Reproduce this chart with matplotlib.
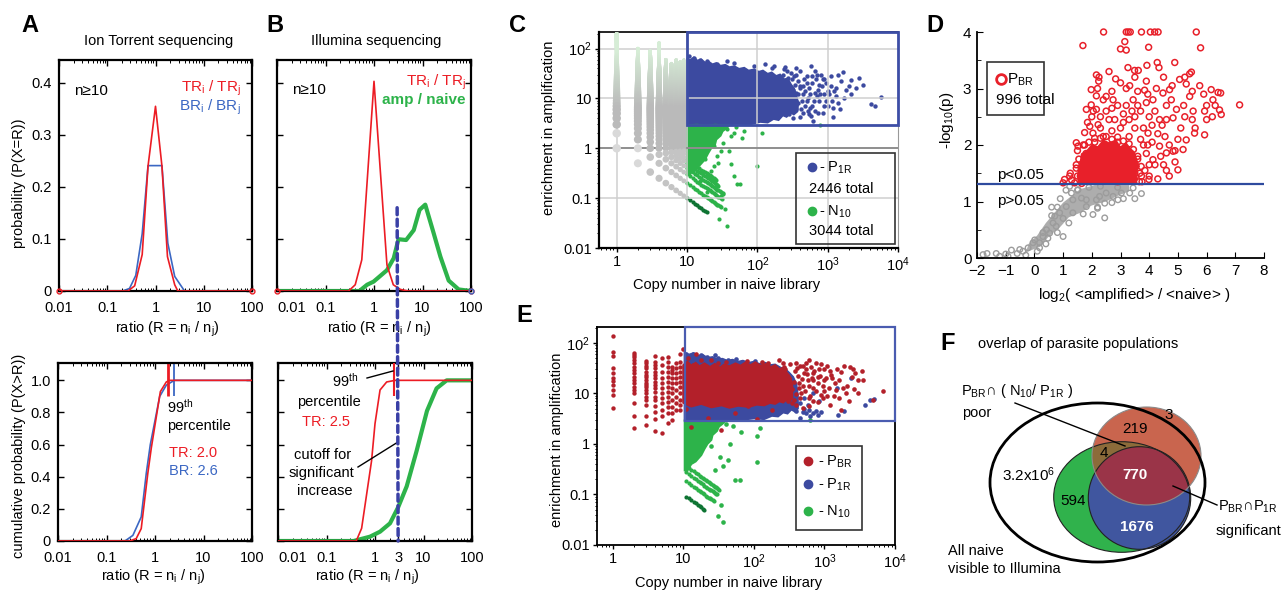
import numpy as np
import matplotlib
matplotlib.use("Agg")
import matplotlib.pyplot as plt
from matplotlib.patches import Ellipse, Rectangle, ConnectionPatch
from matplotlib.lines import Line2D
from matplotlib.ticker import FixedLocator, FixedFormatter, NullFormatter, LogLocator, MultipleLocator

plt.rcParams['font.family'] = ['Liberation Sans', 'DejaVu Sans']
plt.rcParams['mathtext.default'] = 'regular'
plt.rcParams['axes.unicode_minus'] = True

# ---------------------------------------------------------------- data
# Panel A (Ion Torrent) probability of ratio
a_pdf_tr_x = [0.01, 0.27, 0.37, 0.53, 0.70, 1.0, 1.36, 1.77, 2.5, 2.9, 100]
a_pdf_tr_y = [0, 0, 0.01, 0.07, 0.24, 0.355, 0.24, 0.066, 0.012, 0, 0]
a_pdf_br_x = [0.01, 0.21, 0.29, 0.39, 0.53, 0.70, 1.0, 1.36, 1.8, 2.5, 4.0, 100]
a_pdf_br_y = [0, 0, 0.005, 0.03, 0.11, 0.241, 0.241, 0.241, 0.092, 0.028, 0, 0]
# Panel B (Illumina) probability of ratio
b_pdf_tr_x = [0.01, 0.3, 0.41, 0.56, 1.0, 1.85, 2.5, 3.5, 5.0, 100]
b_pdf_tr_y = [0, 0, 0.012, 0.06, 0.403, 0.05, 0.012, 0.003, 0, 0]
b_pdf_amp_x = [0.01, 0.5, 0.72, 0.98, 1.85, 2.55, 3.2, 4.6, 6.6, 8.7, 11.4, 17, 23.4, 34.7, 55.6, 100]
b_pdf_amp_y = [0, 0, 0.012, 0.018, 0.04, 0.063, 0.0995, 0.098, 0.117, 0.156, 0.166, 0.111, 0.066, 0.02, 0.003, 0]
# Panel A cumulative
a_cdf_tr_x = [0.01, 0.3, 0.41, 0.52, 0.71, 0.84, 1.29, 1.71, 2.0, 100]
a_cdf_tr_y = [0, 0, 0.015, 0.077, 0.42, 0.58, 0.93, 0.99, 1.0, 1.0]
a_cdf_br_x = [0.01, 0.24, 0.35, 0.52, 0.66, 0.8, 1.25, 1.71, 2.5, 100]
a_cdf_br_y = [0, 0, 0.035, 0.15, 0.42, 0.6, 0.9, 0.97, 1.0, 1.0]
# Panel B cumulative
b_cdf_tr_x = [0.01, 0.41, 0.53, 0.85, 1.0, 1.27, 1.74, 2.6, 100]
b_cdf_tr_y = [0, 0, 0.079, 0.5, 0.73, 0.94, 0.99, 1.0, 1.0]
b_cdf_amp_x = [0.01, 0.36, 0.79, 1.27, 2.04, 3.0, 4.5, 7.2, 11.8, 18.6, 30, 100]
b_cdf_amp_y = [0, 0, 0.027, 0.058, 0.11, 0.21, 0.34, 0.56, 0.81, 0.95, 1.0, 1.0]
# 99th percentiles and cutoff
a_p99_tr, a_p99_br = 1.85, 2.45
b_p99_tr = 2.5
cutoff = 3

# Panel C: naive copy number vs enrichment
c_col_naive = [1, 2, 3, 4, 5, 6, 7, 8, 9]
c_col_top = [200, 100, 90, 130, 60, 50, 60, 55, 60]
c_n10_line_amp = [1, 2, 3, 4, 5, 6]
c_n10_line_last = [19, 30, 31, 33, 28, 26]
c_n10_core_x = [10, 14, 18, 25, 32, 40, 36, 32, 30, 26, 25, 22, 20, 18, 15, 13, 11, 10]
c_n10_core_y = [2.9, 2.95, 2.85, 2.95, 2.9, 2.9, 2.5, 2.2, 1.8, 1.5, 1.2, 1.0, 0.8, 0.6, 0.45, 0.4, 0.3, 0.3]
c_n10_points = [(37, 2.4), (46, 2.06), (61, 1.63), (41.7, 1.76), (117, 2.06), (64, 2.2), (24, 1.1),
                (26.8, 0.7), (41.7, 0.48), (46, 0.28), (57, 0.19), (52, 0.19), (100, 0.44), (26.8, 0.18),
                (30, 0.11), (35, 0.06), (28.3, 0.038), (37, 0.028), (19.3, 0.13), (21.5, 0.096),
                (15.5, 0.22), (17, 0.33), (24, 0.44), (18, 0.6), (15.5, 0.8), (30, 0.88), (19.3, 2.4),
                (15.5, 1.76), (785, 2.9), (50, 2.7), (33, 1.3), (28, 0.5), (22, 0.35), (40, 0.9)]
c_p1r_core_x = [10, 11, 12.5, 14, 16, 18, 20, 23, 26, 30, 35, 40, 47, 55, 65, 75, 90, 105, 120, 140, 160, 185,
                210, 240, 270, 300, 330, 360, 380, 370, 330, 300, 260, 230, 200, 170, 140, 110, 80, 50, 30, 10]
c_p1r_core_y = [64, 58, 66, 57, 60, 52, 55, 48, 51, 45, 47, 42, 44, 39, 41, 36, 38, 34, 36, 31, 33, 28, 30, 24,
                25, 19, 16, 11, 8, 5.5, 4.8, 5.2, 4.3, 4.6, 3.7, 3.9, 3.3, 3.4, 3.05, 3.1, 3.0, 3.0]
c_p1r_points = [(5770, 10.6), (4170, 7.6), (4670, 7.0), (3160, 18.2), (2830, 25.9), (2140, 23.3), (2140, 12),
                (1540, 22), (1650, 33.6), (1390, 8.2), (1300, 11.1), (1100, 17.7), (900, 24), (800, 30),
                (720, 15), (640, 8.9), (580, 44), (520, 5.6), (580, 4.4), (410, 35), (410, 17.7), (330, 11),
                (300, 7), (270, 5.2), (240, 39), (215, 20), (195, 4.4), (140, 17.7), (110, 32.7), (130, 49),
                (90, 44), (57.6, 32.7), (46, 52), (37, 56), (26.8, 48), (19.3, 56), (15.5, 60), (12.4, 65),
                (10.6, 70), (1000, 14), (1200, 6.5), (850, 5), (700, 11), (600, 20), (950, 9), (1800, 15),
                (2500, 16), (650, 36), (500, 28), (450, 12), (380, 8), (350, 30), (280, 4.8), (250, 42),
                (170, 45), (1100, 28), (750, 19), (620, 3.6), (560, 6.5), (1200, 4.2), (900, 12), (500, 9),
                (320, 15), (350, 9), (380, 22), (420, 6), (460, 25), (480, 14), (520, 10), (550, 16), (600, 7),
                (650, 13), (680, 25), (720, 5), (760, 9), (820, 18), (880, 7), (950, 20), (1050, 12),
                (1150, 9), (1250, 14), (1400, 30), (1500, 6), (1700, 10), (2000, 18), (350, 40), (300, 33),
                (260, 36), (230, 30), (210, 12), (180, 8), (160, 40), (400, 4.2), (450, 5), (700, 30),
                (270, 26), (330, 28), (380, 12), (440, 18), (500, 20), (560, 12), (600, 28), (650, 5.5),
                (780, 12), (850, 25), (1000, 7), (1300, 16), (320, 4), (360, 6), (400, 16), (430, 9),
                (300, 14), (340, 19), (310, 24), (470, 7), (540, 4.8), (260, 10), (280, 17), (360, 13)]
c_p1r_total, c_n10_total = 2446, 3044

# Panel D: volcano-type plot
d_cut = -np.log10(0.05)
d_br_core_x = [1.5, 3.5, 3.62, 3.55, 3.68, 3.58, 3.5, 3.35, 3.2, 3.0, 2.85, 2.6, 2.4, 2.2, 2.0, 1.8, 1.62, 1.58, 1.5]
d_br_core_y = [1.31, 1.31, 1.4, 1.5, 1.62, 1.75, 1.88, 1.95, 2.05, 1.98, 2.1, 2.05, 2.1, 1.98, 2.02, 1.9, 1.85,
               1.7, 1.6]
d_br_points = [
    (2.41, 4), (3.2, 4), (3.27, 4), (3.34, 4), (3.73, 4), (4.04, 4), (4.19, 4), (4.31, 4), (5.64, 4),
    (1.69, 3.76), (3.15, 3.83), (3.0, 3.7), (3.2, 3.68), (3.98, 3.73), (5.79, 3.72),
    (3.49, 3.32), (3.62, 3.32), (3.26, 3.37), (3.92, 3.41), (4.28, 3.46), (4.34, 3.37), (4.89, 3.46),
    (5.29, 3.08), (5.41, 3.26), (5.47, 3.29), (5.76, 3.05), (6.16, 2.98), (6.4, 2.93), (6.49, 2.92),
    (7.15, 2.71), (6.22, 2.8), (6.45, 2.62), (6.51, 2.54), (6.2, 2.5), (5.93, 2.6), (5.53, 2.6),
    (2.16, 3.24), (2.24, 3.13), (2.25, 3.2), (2.83, 3.17), (3.2, 3.0), (3.32, 3.05), (3.9, 3.13),
    (3.84, 2.97), (4.25, 3.0), (4.48, 2.92), (4.71, 2.98), (5.06, 3.16), (5.24, 3.2),
    (1.98, 2.98), (2.16, 2.87), (1.98, 2.71), (1.81, 2.63), (2.16, 2.63), (2.5, 2.86), (2.74, 2.8),
    (3.44, 2.8), (4.13, 2.8), (4.77, 2.8), (4.95, 2.63), (5.41, 2.86), (5.24, 2.5), (4.83, 2.48),
    (4.36, 2.45), (5.58, 2.21), (5.93, 2.18), (5.29, 2.09), (5.18, 1.92), (4.83, 1.89), (4.6, 1.86),
    (5.0, 1.56), (3.96, 2.21), (4.36, 1.98), (4.13, 1.74), (3.99, 1.39), (3.67, 1.5), (3.44, 1.36),
    (1.0, 1.33), (1.05, 1.39), (1.23, 1.45), (1.25, 1.5), (1.46, 1.59), (1.46, 1.65), (1.52, 1.98),
    (1.46, 2.04), (1.75, 2.0), (1.75, 2.22), (2.04, 2.21), (1.93, 2.33), (2.22, 2.36), (1.6, 1.45),
    (1.3, 1.38), (1.4, 1.33), (2.05, 2.6), (2.3, 2.5), (2.6, 2.45), (2.7, 2.65), (2.9, 2.7),
    (3.1, 2.55), (3.3, 2.45), (3.5, 2.5), (3.6, 2.7), (3.8, 2.3), (4.0, 2.5), (4.2, 2.6), (4.45, 2.35),
    (4.6, 2.45), (4.55, 2.15), (4.7, 2.0), (4.4, 1.8), (4.2, 1.65), (4.0, 1.45), (4.3, 1.4),
    (4.6, 1.55), (4.9, 1.9), (5.0, 2.1), (5.1, 2.3), (5.5, 2.45), (5.6, 2.3), (6.0, 2.45), (5.9, 2.9),
    (5.2, 2.7), (4.6, 2.7), (3.95, 2.9), (3.6, 2.95), (2.7, 2.95), (2.4, 2.8), (2.2, 3.0), (2.6, 3.3),
    (3.0, 3.1), (3.5, 3.2), (4.5, 3.2), (4.8, 3.05), (5.5, 2.95), (6.0, 2.7), (6.3, 2.7), (2.0, 2.5),
    (1.85, 2.4), (2.5, 2.6), (3.0, 2.3), (3.2, 2.7), (3.7, 2.6), (3.9, 2.75), (4.1, 2.35), (1.7, 1.7),
    (1.8, 1.85), (2.9, 1.35), (3.2, 1.4), (3.5, 1.5), (3.6, 1.8), (3.8, 2.0), (4.9, 1.7), (4.7, 1.45),
    (3.75, 1.35), (1.85, 1.6), (2.4, 2.15), (2.7, 2.25), (2.9, 2.05), (3.3, 2.15), (3.5, 2.3),
    (3.9, 1.85), (3.7, 2.1), (4.1, 2.05), (2.3, 2.3), (3.1, 2.4), (3.4, 2.6), (4.3, 2.2), (2.8, 2.45),
    (4.0, 1.65), (3.85, 1.55), (4.5, 1.65), (2.1, 2.05), (3.95, 2.0),
    (1.5, 1.9), (1.7, 2.0), (1.9, 2.05), (2.1, 2.12), (2.3, 2.12), (2.5, 2.15), (2.7, 2.1), (2.9, 2.14),
    (3.1, 2.07), (3.3, 2.02), (3.45, 1.92), (3.6, 1.75), (3.72, 1.62), (3.73, 1.45), (3.66, 1.35),
    (1.55, 1.75), (1.5, 1.45), (1.65, 1.32)]
d_ns_core_x = [-0.3, 0.2, 0.5, 0.9, 1.2, 1.6, 2.0, 2.5, 2.9, 3.3, 3.3, 2.6, 2.1, 1.6, 1.3, 1.0, 0.7, 0.4, 0.1, -0.2]
d_ns_core_y = [0.1, 0.2, 0.38, 0.55, 0.72, 0.8, 0.93, 1.0, 1.1, 1.18, 1.29, 1.29, 1.29, 1.22, 1.1, 0.98, 0.8, 0.62,
               0.4, 0.25]
d_ns_points = [
    (-1.79, 0.06), (-1.65, 0.08), (-1.33, 0.08), (-1.21, 0.03), (-1.0, 0.07), (-0.8, 0.14), (-0.92, 0.03),
    (-0.51, 0.15), (-0.4, 0.12), (-0.22, 0.18), (-0.05, 0.27), (0.01, 0.32), (0.18, 0.27), (0.3, 0.38),
    (0.42, 0.5), (0.47, 0.35), (0.65, 0.62), (0.71, 0.74), (0.76, 0.56), (1.0, 0.38), (0.88, 0.8),
    (1.11, 0.91), (1.34, 1.03), (1.29, 1.15), (1.52, 1.21), (1.64, 1.06), (1.81, 0.91), (2.04, 0.77),
    (1.81, 1.03), (2.16, 1.03), (2.27, 1.09), (2.45, 0.97), (2.5, 1.15), (2.74, 1.09), (2.91, 1.03),
    (3.03, 1.15), (3.32, 1.15), (3.44, 1.24), (3.73, 1.14), (2.45, 0.71), (1.34, 0.8), (1.23, 1.27),
    (0.53, 0.44), (0.18, 0.18), (-0.6, 0.08), (-0.3, 0.05), (0.1, 0.12), (0.6, 0.9), (1.0, 0.7),
    (0.9, 1.05), (1.1, 1.2), (2.9, 1.25), (3.5, 1.05), (2.2, 0.9), (0.3, 0.45), (0.6, 0.75), (0.8, 0.9),
    (1.5, 1.2), (1.9, 1.25), (2.3, 1.27), (0.4, 0.25), (0.8, 0.45), (1.2, 0.62), (1.7, 0.78), (2.2, 0.88),
    (2.7, 0.98), (3.1, 1.05)]
d_br_total = 996

# Panel E
e_br_col_naive = [1, 2, 3, 4, 5, 6, 7, 8, 9]
e_br_col_values = [
    [137, 66, 54.6, 31, 25, 20.5, 17.6, 14.3, 11.7, 9.3, 5.05],
    [63, 57, 51.5, 45.5, 39, 33.6, 28.8, 24.8, 20.6, 18.3, 15.7, 13.1, 11.7, 10, 6.3, 3.6, 2.1],
    [44, 39, 34.6, 31, 26.8, 23, 20.6, 18.3, 16.3, 14.3, 13.1, 11.6, 10, 8.6, 7.4, 5.9, 3.5, 2.37],
    [54.6, 42, 36, 31, 26.8, 23, 19.8, 17, 14.6, 12.5, 10.8, 8.6, 7.4, 5.6, 4.3, 3.06, 1.8],
    [49, 36, 27, 19.8, 15.7, 12.5, 10, 8, 6.3, 4.7, 3.5, 1.65],
    [52.7, 42, 33.6, 27, 21, 17, 13.6, 10.8, 8.6, 6.8, 5.4, 4, 2.55],
    [33.6, 28.8, 24.8, 19.8, 15.7, 12.5, 10, 7.4, 5.4, 4, 3],
    [39, 31, 24.8, 19.8, 15.7, 11.7, 8.6, 6.3, 4.7],
    [61, 42, 33.6, 27, 21, 17, 13.6, 10, 7.4, 5.9, 4.7]]
e_p1r_core_x = [10.5, 12, 14, 16, 19, 22, 26, 30, 36, 42, 50, 60, 70, 85, 100, 120, 145, 170, 200, 240, 280, 320,
                360, 400, 420, 420, 380, 340, 300, 260, 220, 180, 140, 100, 60, 30, 10.5]
e_p1r_core_y = [63, 58, 62, 55, 57, 50, 52, 47, 48, 44, 46, 42, 44, 40, 42, 38, 40, 36, 37, 32, 30, 25, 21, 15, 9,
                5, 4.4, 4.8, 4.0, 4.2, 3.5, 3.6, 3.1, 3.2, 2.95, 2.9, 2.9]
e_br_core_x = [10, 11.5, 13, 15, 17, 20, 24, 28, 33, 38, 45, 55, 65, 75, 90, 105, 125, 150, 175, 200, 230, 260, 290,
               320, 350, 350, 320, 290, 260, 230, 200, 170, 140, 110, 85, 60, 45, 35, 25, 18, 13, 10]
e_br_core_y = [36, 42, 35, 40, 34, 39, 33, 38, 32, 37, 34, 39, 35, 40, 36, 41, 35, 38, 33, 36, 30, 32, 26, 22, 16,
               8, 7, 7.5, 6.6, 7, 6.2, 6.5, 5.8, 6.0, 5.4, 5.7, 5.2, 5.8, 5.3, 6.2, 5.5, 6.5]
e_br_points = [(6760, 11.3), (4940, 7.4), (3360, 28), (2950, 18.3), (2420, 21.3), (2270, 33.6), (1830, 13),
               (1730, 4.7), (1470, 11.6), (1250, 23), (990, 18.3), (900, 9.3), (800, 6.8), (680, 12.5),
               (610, 45.5), (520, 24.8), (440, 15.7), (390, 39), (350, 6.3), (310, 10), (265, 33.6),
               (225, 45.5), (180, 4.7), (160, 39), (112, 3.06), (84, 5.5), (54, 4.0), (48, 33.6), (31, 39),
               (18, 45.5), (13.6, 36), (11.5, 49), (10, 77), (22.4, 3.2), (12.9, 2.2), (34.6, 1.9),
               (1100, 9), (1400, 16), (1600, 8), (2000, 10), (2600, 12), (1200, 6), (950, 14), (700, 25),
               (600, 8), (700, 18), (850, 30), (750, 40), (1000, 30), (1700, 26), (3000, 10), (2200, 7),
               (1900, 35), (1300, 20), (500, 35), (600, 5.5), (450, 8), (12, 25), (11, 15), (13, 8),
               (11, 5), (15, 60), (25, 45), (40, 42), (80, 44), (130, 42), (2500, 30),
               (280, 30), (320, 20), (350, 12), (380, 28), (420, 22), (460, 10), (500, 14), (540, 30),
               (580, 18), (620, 9), (660, 20), (720, 28), (760, 11), (820, 16), (880, 22), (940, 8),
               (1050, 20), (1150, 13), (1350, 9), (1600, 18), (2100, 14), (300, 7), (400, 6), (260, 40),
               (330, 38), (450, 35), (550, 40), (650, 33), (900, 38), (1100, 35), (1500, 30), (2700, 25),
               (3500, 18), (370, 17), (410, 31), (480, 19), (530, 11), (560, 24), (400, 9.5), (430, 13),
               (370, 7.5), (600, 14), (700, 7), (800, 21), (1000, 11), (1200, 28), (500, 5.2)]
e_p1r_points = [(4400, 7.4), (1550, 3.7), (610, 4.7), (13.6, 61), (18, 57), (22, 52.6), (31, 49), (43, 45.5),
                (67, 42), (104, 44), (117, 7.4), (163, 6.3), (280, 5.5), (490, 4.3), (680, 4.0), (5000, 7.6),
                (3700, 6), (1900, 4.5), (2400, 20), (1500, 13), (700, 10), (850, 7), (11, 60), (12.5, 55),
                (16, 50), (28, 58), (55, 48), (250, 7), (400, 4.5), (550, 4.1), (450, 3.3), (520, 5),
                (620, 3.5), (750, 4.5), (800, 3.8), (900, 4.2), (450, 6.5), (580, 6), (520, 8)]
e_n10_line_amp = [1, 2, 3, 4]
e_n10_line_last = [20, 27, 30, 32]
e_n10_core_x = [10.5, 14, 18, 25, 32, 40, 36, 32, 30, 26, 25, 22, 20, 18, 15, 13, 11.5, 10.5]
e_n10_core_y = [2.9, 2.95, 2.85, 2.95, 2.9, 2.9, 2.5, 2.2, 1.8, 1.5, 1.2, 1.0, 0.8, 0.6, 0.45, 0.4, 0.3, 0.3]
e_n10_points = [(66, 1.75), (123, 2.04), (110, 1.4), (46, 1.0), (33, 0.56), (36, 0.36), (43, 0.48), (54, 0.19),
                (63, 0.19), (110, 0.43), (34.5, 0.063), (31, 0.037), (36.5, 0.029), (40, 2.5), (30, 2.6),
                (20, 1.9), (25, 0.9), (617, 3.0), (28, 0.3), (50, 2.3)]

# Panel F: Venn counts
f_counts = {'PBR_only': 3, 'PBR_out': 219, 'PBR_N10': 4, 'PBR_P1R': 770, 'N10': 594, 'P1R': 1676}
f_all_naive = '3.2x10$^6$'

# ---------------------------------------------------------------- style
RED = '#EC1C24'
BLUE_L = '#3B67C3'
GREEN = '#2DB34A'
NAVY = '#3A40A6'
P1R_BLUE = '#3C4AA0'
PBR_RED = '#B3202A'
D_RED = '#E8202A'
D_GREY = '#9C9C9C'

W, H = 1285, 590
fig = plt.figure(figsize=(W / 100, H / 100), dpi=100)


def add_ax(l, t, r, b):
    return fig.add_axes([l / W, 1 - b / H, (r - l) / W, (b - t) / H])


def ftext(x, y, s, **kw):
    kw.setdefault('va', 'center')
    kw.setdefault('fontsize', 10.5)
    return fig.text(x / W, 1 - y / H, s, **kw)


def fline(xs, ys, **kw):
    fig.add_artist(Line2D([x / W for x in xs], [1 - y / H for y in ys], transform=fig.transFigure, **kw))


def fmarker(x, y, **kw):
    fig.add_artist(Line2D([x / W], [1 - y / H], transform=fig.transFigure, marker='o', ls='none', **kw))


def frect(l, t, r, b, **kw):
    fig.add_artist(Rectangle((l / W, 1 - b / H), (r - l) / W, (b - t) / H, transform=fig.transFigure,
                             fill=False, **kw))


def style_ratio(ax, ymax, yt, ytl, show_y, xt=(0.01, 0.1, 1, 10, 100), xtl=('0.01', '0.1', '1', '10', '100')):
    ax.set_xscale('log')
    ax.set_xlim(0.01, 100)
    ax.set_ylim(0, ymax)
    ax.xaxis.set_major_locator(FixedLocator(list(xt)))
    ax.xaxis.set_major_formatter(FixedFormatter(list(xtl)))
    ax.xaxis.set_minor_locator(LogLocator(base=10, subs=np.arange(2, 10) * 1.0, numticks=30))
    ax.xaxis.set_minor_formatter(NullFormatter())
    ax.yaxis.set_major_locator(FixedLocator(yt))
    ax.yaxis.set_major_formatter(FixedFormatter(ytl if show_y else [''] * len(yt)))
    ax.tick_params(which='both', direction='in', top=True, right=True, labelsize=10.5)
    ax.tick_params(axis='x', which='major', length=4, width=1, pad=7)
    ax.tick_params(axis='y', which='major', length=4, width=1, pad=5)
    ax.tick_params(which='minor', length=2, width=0.7)
    for s in ax.spines.values():
        s.set_linewidth(1.6)


def end_markers(ax, x, y, color):
    ax.plot([x[0], x[-1]], [y[0], y[-1]], 'o', ms=3.5, mfc='none', mec=color, mew=1, clip_on=False, zorder=5)


# ---------------------------------------------------------------- Panel A top
axA1 = add_ax(59, 60, 252, 291)
axA1.plot(a_pdf_br_x, a_pdf_br_y, color=BLUE_L, lw=1.2, zorder=2)
axA1.plot(a_pdf_tr_x, a_pdf_tr_y, color=RED, lw=1.2, zorder=3)
end_markers(axA1, a_pdf_tr_x, a_pdf_tr_y, RED)
style_ratio(axA1, 0.444, [0, 0.1, 0.2, 0.3, 0.4], ['0', '0.1', '0.2', '0.3', '0.4'], True)
axA1.set_ylabel('probability (P(X=R))', fontsize=10.5)
axA1.yaxis.set_label_coords(-0.171, 0.468)
axA1.set_xlabel('ratio (R = n$_i$ / n$_j$)', fontsize=10.5)
axA1.xaxis.set_label_coords(0.56, -0.125)

# ---------------------------------------------------------------- Panel B top
axB1 = add_ax(277, 60, 471, 291)
axB1.plot(b_pdf_tr_x, b_pdf_tr_y, color=RED, lw=1.2, zorder=3)
axB1.plot(b_pdf_amp_x, b_pdf_amp_y, color=GREEN, lw=3, zorder=2)
end_markers(axB1, b_pdf_tr_x, b_pdf_tr_y, RED)
axB1.plot([100], [0], 'o', ms=3.5, mfc='none', mec=BLUE_L, mew=1, clip_on=False, zorder=6)
style_ratio(axB1, 0.444, [0, 0.1, 0.2, 0.3, 0.4], [], False)
axB1.xaxis.get_major_ticks()[0].label1.set_horizontalalignment('left')
axB1.set_xlabel('ratio (R = n$_i$ / n$_j$)', fontsize=10.5)
axB1.xaxis.set_label_coords(0.53, -0.125)

# ---------------------------------------------------------------- Panel A bottom
axA2 = add_ax(58, 363, 252, 541)
axA2.plot(a_cdf_br_x, a_cdf_br_y, color=BLUE_L, lw=1.2, zorder=2)
axA2.plot(a_cdf_tr_x, a_cdf_tr_y, color=RED, lw=1.2, zorder=3)
style_ratio(axA2, 1.108, [0, 0.2, 0.4, 0.6, 0.8, 1.0], ['0', '0.2', '0.4', '0.6', '0.8', '1.0'], True)
axA2.vlines(a_p99_tr, 0.9, 1.108, color=RED, lw=2)
axA2.vlines(a_p99_br, 0.9, 1.108, color=BLUE_L, lw=1.3)
axA2.set_ylabel('cumulative probability (P(X>R))', fontsize=10.5)
axA2.yaxis.set_label_coords(-0.165, 0.478)
axA2.set_xlabel('ratio (R = n$_i$ / n$_j$)', fontsize=10.5)
axA2.xaxis.set_label_coords(0.49, -0.152)

# ---------------------------------------------------------------- Panel B bottom
axB2 = add_ax(278, 363, 472, 541)
axB2.plot(b_cdf_tr_x, b_cdf_tr_y, color=RED, lw=1.2, zorder=3)
axB2.plot(b_cdf_amp_x, b_cdf_amp_y, color=GREEN, lw=3, zorder=2)
style_ratio(axB2, 1.108, [0, 0.2, 0.4, 0.6, 0.8, 1.0], [], False,
            xt=(0.01, 0.1, 1, cutoff, 10, 100), xtl=('0.01', '0.1', '1', str(cutoff), '10', '100'))
axB2.xaxis.get_major_ticks()[0].label1.set_horizontalalignment('left')
axB2.vlines(b_p99_tr, 0.9, 1.108, color=RED, lw=1.5, zorder=4)
axB2.set_xlabel('ratio (R = n$_i$ / n$_j$)', fontsize=10.5)
axB2.xaxis.set_label_coords(0.46, -0.152)

con = ConnectionPatch(xyA=(cutoff, 0.16), coordsA='data', axesA=axB1,
                      xyB=(cutoff, 0.0), coordsB='data', axesB=axB2,
                      color=NAVY, lw=2.5, linestyle=(0, (2, 1.3)), zorder=10)
fig.add_artist(con)

# texts A/B
ftext(30, 25, 'A', fontsize=17, fontweight='bold', ha='center')
ftext(275, 25, 'B', fontsize=17, fontweight='bold', ha='center')
ftext(159, 41, 'Ion Torrent sequencing', ha='center', fontsize=10.5)
ftext(376, 41, 'Illumina sequencing', ha='center', fontsize=10.5)
ftext(74, 91, 'n≥10', ha='left', fontsize=11)
ftext(241, 88, 'TR$_i$ / TR$_j$', ha='right', color=RED, fontsize=11)
ftext(241, 107, 'BR$_i$ / BR$_j$', ha='right', color=BLUE_L, fontsize=11)
ftext(292, 90, 'n≥10', ha='left', fontsize=11)
ftext(466, 82, 'TR$_i$ / TR$_j$', ha='right', color=RED, fontsize=11)
ftext(466, 100, 'amp / naive', ha='right', color=GREEN, fontsize=11, fontweight='bold')

ftext(167, 407, '99$^{th}$', ha='left')
ftext(167, 426, 'percentile', ha='left')
ftext(169, 453, 'TR: %.1f' % 2.0, ha='left', color=RED)
ftext(169, 471, 'BR: %.1f' % 2.6, ha='left', color=BLUE_L)

ftext(345, 381, '99$^{th}$', ha='center')
ftext(329, 402, 'percentile', ha='center')
ftext(326, 422, 'TR: %.1f' % b_p99_tr, ha='center', color=RED)
ftext(323, 455, 'cutoff for', ha='center')
ftext(321, 473, 'significant', ha='center')
ftext(325, 491, 'increase', ha='center')
fline([367, 393], [378, 371], color='black', lw=1)
fline([358, 398], [467, 442], color='black', lw=1)


# ---------------------------------------------------------------- helpers for C/E
def style_copy(ax, ylim_top, xmin):
    ax.set_xscale('log')
    ax.set_yscale('log')
    ax.set_xlim(xmin, 1e4)
    ax.set_ylim(0.01, ylim_top)
    ax.xaxis.set_major_locator(FixedLocator([1, 10, 100, 1000, 10000]))
    ax.xaxis.set_major_formatter(FixedFormatter(['1', '10', '10$^2$', '10$^3$', '10$^4$']))
    ax.yaxis.set_major_locator(FixedLocator([0.01, 0.1, 1, 10, 100]))
    ax.yaxis.set_major_formatter(FixedFormatter(['0.01', '0.1', '1', '10', '10$^2$']))
    for a in (ax.xaxis, ax.yaxis):
        a.set_minor_locator(LogLocator(base=10, subs=np.arange(2, 10) * 1.0, numticks=30))
        a.set_minor_formatter(NullFormatter())
    ax.tick_params(which='both', direction='out', labelsize=10.5)
    ax.tick_params(which='major', length=3, width=1, pad=2)
    ax.tick_params(which='minor', length=1.5, width=0.7)
    ax.set_ylabel('enrichment in amplification', fontsize=10.5)
    ax.set_xlabel('Copy number in naive library', fontsize=10.5)


def scatter_pts(ax, pts, color, s, **kw):
    ax.scatter([p[0] for p in pts], [p[1] for p in pts], s=s, color=color, lw=0, **kw)


def n10_lines(ax, amps, lasts, first, zorder):
    for amp, last in zip(amps, lasts):
        nx = np.arange(first, last + 1)
        col = '#0E7433' if amp == 1 else GREEN
        ax.scatter(nx, amp / nx, s=9, color=col, lw=0, zorder=zorder)


# ---------------------------------------------------------------- Panel C
axC = add_ax(599, 32, 898, 248)
style_copy(axC, 215, 0.56)
col_x, col_y, col_s, col_c = [], [], [], []
grey = np.array([0.73, 0.73, 0.73])
pale = np.array([0.84, 0.93, 0.84])
for n, top in zip(c_col_naive, c_col_top):
    kmax = int(round(top * n))
    for k in range(kmax, 0, -1):
        y = k / n
        t = float(np.clip((np.log10(y) - 0.8) / 1.1, 0, 1))
        g = grey.copy()
        if y < 1:
            g = np.array([0.77, 0.77, 0.77])
        if k <= 2 and n <= 2:
            g = np.array([0.85, 0.85, 0.85])
        c = g * (1 - t) + pale * t
        d = (8.5 - 0.45 * (n - 1)) * (1 - 0.55 * t)
        col_x.append(n)
        col_y.append(y)
        col_s.append((d * 0.72) ** 2)
        col_c.append(c)
axC.fill(c_p1r_core_x, c_p1r_core_y, color=P1R_BLUE, lw=1.5, ec=P1R_BLUE, zorder=1)
scatter_pts(axC, c_p1r_points, P1R_BLUE, 10, zorder=1)
axC.fill(c_n10_core_x, c_n10_core_y, color=GREEN, lw=1.5, ec=GREEN, zorder=1)
scatter_pts(axC, c_n10_points, GREEN, 9, zorder=1)
n10_lines(axC, c_n10_line_amp, c_n10_line_last, 10, 1)
for v in [1, 10, 100, 1000]:
    axC.axvline(v, color='#CFCFCF', lw=1.1, zorder=2)
for v in [0.1, 10, 100]:
    axC.axhline(v, color='#CFCFCF', lw=1.1, zorder=2)
axC.axhline(1, color='#8E8E8E', lw=1.4, zorder=2)
axC.scatter(col_x, col_y, s=col_s, c=col_c, lw=0, zorder=3)
axC.add_patch(Rectangle((10, 2.93), 1e4 - 10, 215 - 2.93, fill=False, ec='#3D4EA6', lw=2, clip_on=False, zorder=6))
for sname in ['left', 'bottom']:
    axC.spines[sname].set_linewidth(1.6)
axC.spines['top'].set_linewidth(1.2)
axC.spines['right'].set_color('#999999')
axC.yaxis.set_label_coords(-0.144, 0.556)
axC.xaxis.set_label_coords(0.428, -0.139)
ftext(517, 26, 'C', fontsize=17, fontweight='bold', ha='center')
frect(796, 153, 895, 244, ec='#333333', lw=1.2)
fmarker(812, 167, ms=6, mfc=P1R_BLUE, mec=P1R_BLUE)
ftext(819, 168, '- P$_{1R}$', ha='left')
ftext(809, 189, '%d total' % c_p1r_total, ha='left')
fmarker(812, 211, ms=6, mfc=GREEN, mec=GREEN)
ftext(819, 212, '- N$_{10}$', ha='left')
ftext(809, 231, '%d total' % c_n10_total, ha='left')

# ---------------------------------------------------------------- Panel E
axE = add_ax(597, 327, 895, 545)
style_copy(axE, 205, 0.6)
axE.fill(e_n10_core_x, e_n10_core_y, color=GREEN, lw=1.5, ec=GREEN, zorder=1)
scatter_pts(axE, e_n10_points, GREEN, 11, zorder=1)
n10_lines(axE, e_n10_line_amp, e_n10_line_last, 11, 1)
axE.fill(e_p1r_core_x, e_p1r_core_y, color=P1R_BLUE, lw=1.5, ec=P1R_BLUE, zorder=2)
scatter_pts(axE, e_p1r_points, P1R_BLUE, 11, zorder=2)
axE.fill(e_br_core_x, e_br_core_y, color=PBR_RED, lw=1.5, ec=PBR_RED, zorder=3)
scatter_pts(axE, e_br_points, PBR_RED, 11, zorder=3)
for n, vals in zip(e_br_col_naive, e_br_col_values):
    axE.scatter([n] * len(vals), vals, s=10, color=PBR_RED, lw=0, zorder=3)
axE.add_patch(Rectangle((10.5, 2.85), 1e4 - 10.5, 205 - 2.85, fill=False, ec='#4A5CB0', lw=1.6, clip_on=False,
                        zorder=6))
for sname in axE.spines:
    axE.spines[sname].set_linewidth(1.3)
axE.yaxis.set_label_coords(-0.111, 0.482)
axE.xaxis.set_label_coords(0.44, -0.142)
ftext(524, 315, 'E', fontsize=17, fontweight='bold', ha='center')
frect(796, 446, 862, 530, ec='#333333', lw=1.2)
fmarker(808, 461, ms=6, mfc=PBR_RED, mec=PBR_RED)
ftext(818, 462, '- P$_{BR}$', ha='left')
fmarker(808, 484, ms=6, mfc=P1R_BLUE, mec=P1R_BLUE)
ftext(818, 485, '- P$_{1R}$', ha='left')
fmarker(808, 511, ms=6, mfc=GREEN, mec=GREEN)
ftext(818, 512, '- N$_{10}$', ha='left')

# ---------------------------------------------------------------- Panel D
axD = add_ax(977, 32, 1264, 258)
axD.fill(d_ns_core_x, d_ns_core_y, color='#ADADAD', lw=0, zorder=1)
axD.scatter([p[0] for p in d_ns_points], [p[1] for p in d_ns_points], s=16, facecolors='none',
            edgecolors=D_GREY, lw=1.0, zorder=2)
axD.fill(d_br_core_x, d_br_core_y, color=D_RED, lw=0, zorder=3)
axD.scatter([p[0] for p in d_br_points], [p[1] for p in d_br_points], s=18, facecolors='none',
            edgecolors=D_RED, lw=1.1, zorder=4, clip_on=False)
axD.axhline(d_cut, color='#2E4A9E', lw=1.6, zorder=5)
axD.set_xlim(-2, 8)
axD.set_ylim(0, 4)
axD.xaxis.set_major_locator(FixedLocator(list(range(-2, 9))))
axD.yaxis.set_major_locator(FixedLocator([0, 1, 2, 3, 4]))
axD.yaxis.set_minor_locator(MultipleLocator(0.5))
axD.tick_params(which='both', direction='in', labelsize=11)
axD.tick_params(which='major', length=4, pad=4)
axD.tick_params(which='minor', length=3)
axD.spines['top'].set_visible(False)
axD.spines['right'].set_visible(False)
axD.spines['left'].set_linewidth(1.3)
axD.spines['bottom'].set_linewidth(1.3)
axD.set_ylabel('-log$_{10}$(p)', fontsize=11)
axD.yaxis.set_label_coords(-0.073, 0.61)
axD.set_xlabel('log$_2$( <amplified> / <naive> )', fontsize=11)
axD.xaxis.set_label_coords(0.547, -0.124)
ftext(935, 25, 'D', fontsize=17, fontweight='bold', ha='center')
ftext(997, 175, 'p<0.05', ha='left', fontsize=11)
ftext(997, 201, 'p>0.05', ha='left', fontsize=11)
frect(987, 62, 1044, 115, ec='#333333', lw=1.2)
fmarker(1001, 79, ms=7, mfc='none', mec=D_RED, mew=2)
ftext(1007, 80, 'P$_{BR}$', ha='left', fontsize=11)
ftext(996, 100, '%d total' % d_br_total, ha='left', fontsize=11)

# ---------------------------------------------------------------- Panel F (Venn)
axF = add_ax(940, 320, 1285, 590)
axF.set_xlim(940, 1285)
axF.set_ylim(590, 320)
axF.axis('off')
g_el = Ellipse((1121.7, 497), 136, 110.6, fc='#30B24C', ec='none', zorder=1)
b_el = Ellipse((1139.5, 498), 102.4, 102.6, fc='#40569F', ec='none', zorder=2)
o_el = Ellipse((1146.5, 456), 109, 98, fc='#C9654E', ec='none', zorder=3)
for p in (g_el, b_el, o_el):
    axF.add_patch(p)
o_g = Ellipse((1146.5, 456), 109, 98, fc='#8C6B3A', ec='none', zorder=4)
axF.add_patch(o_g)
o_g.set_clip_path(g_el)
o_b = Ellipse((1146.5, 456), 109, 98, fc='#9A3448', ec='none', zorder=5)
axF.add_patch(o_b)
o_b.set_clip_path(b_el)
axF.add_patch(Ellipse((1121.7, 497), 136, 110.6, fill=False, ec='#222222', lw=0.8, zorder=6))
axF.add_patch(Ellipse((1139.5, 498), 102.4, 102.6, fill=False, ec='#222222', lw=0.8, zorder=6))
axF.add_patch(Ellipse((1146.5, 456), 109, 98, fill=False, ec='#8A8A8A', lw=0.8, zorder=6))
axF.add_patch(Ellipse((1097.5, 482.5), 215, 159, fill=False, ec='black', lw=2, zorder=7))
axF.plot([1015, 1125], [403, 446], color='black', lw=1, zorder=8)
axF.plot([1173, 1217], [486, 505], color='black', lw=1, zorder=8)
ftext(948, 343, 'F', fontsize=17, fontweight='bold', ha='center')
ftext(978, 344, 'overlap of parasite populations', ha='left', fontsize=10.5)
ftext(961, 391, 'P$_{BR}$∩ ( N$_{10}$/ P$_{1R}$ )', ha='left', fontsize=10.5)
ftext(962, 413, 'poor', ha='left', fontsize=10.5)
ftext(1169, 415, str(f_counts['PBR_only']), ha='center', fontsize=11)
ftext(1135, 429, str(f_counts['PBR_out']), ha='center', fontsize=11)
ftext(1104, 453, str(f_counts['PBR_N10']), ha='center', fontsize=11)
ftext(1135, 475, str(f_counts['PBR_P1R']), ha='center', fontsize=11, color='white', fontweight='bold')
ftext(1002, 475, f_all_naive, ha='left', fontsize=11)
ftext(1073, 501, str(f_counts['N10']), ha='center', fontsize=11)
ftext(1137, 527, str(f_counts['P1R']), ha='center', fontsize=11, color='white', fontweight='bold')
ftext(1218, 507, 'P$_{BR}$∩P$_{1R}$', ha='left', fontsize=10.5)
ftext(1216, 531, 'significant', ha='left', fontsize=10.5)
ftext(948, 551, 'All naive', ha='left', fontsize=10.5)
ftext(948, 569, 'visible to Illumina', ha='left', fontsize=10.5)

fig.savefig('out.png', dpi=100)
